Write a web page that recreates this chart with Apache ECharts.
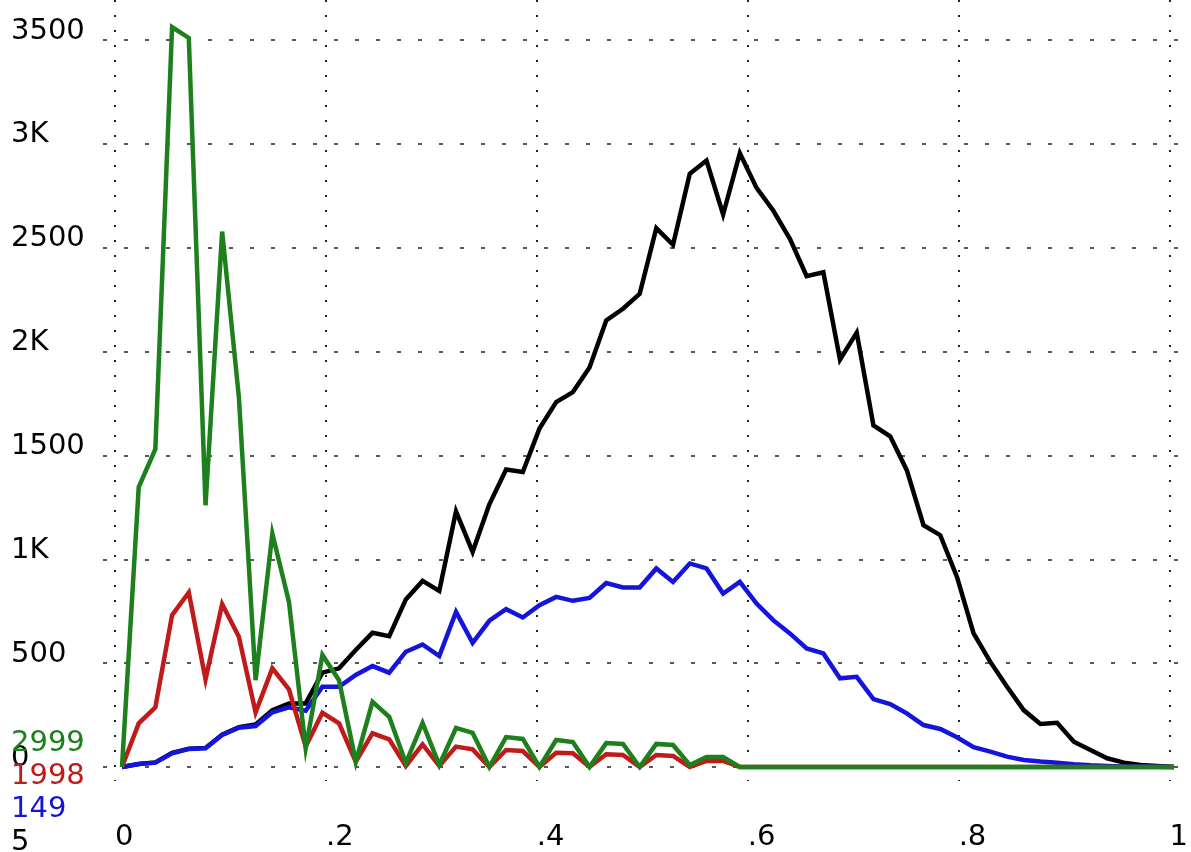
<!DOCTYPE html>
<html>
<head>
<meta charset="utf-8">
<script src="https://cdn.jsdelivr.net/npm/echarts@6/dist/echarts.min.js"></script>
<style>
html,body{margin:0;padding:0;background:#fff;}
#chart{width:1191px;height:852px;}
</style>
</head>
<body>
<div id="chart"></div>
<script>
// x positions of the histogram bins
var xValues = [0, .0159, .0317, .0476, .0635, .0794, .0952, .1111, .1270, .1429,
  .1587, .1746, .1905, .2063, .2222, .2381, .2540, .2698, .2857, .3016,
  .3175, .3333, .3492, .3651, .3810, .3968, .4127, .4286, .4444, .4603,
  .4762, .4921, .5079, .5238, .5397, .5556, .5714, .5873, .6032, .6190,
  .6349, .6508, .6667, .6825, .6984, .7143, .7302, .7460, .7619, .7778,
  .7937, .8095, .8254, .8413, .8571, .8730, .8889, .9048, .9206, .9365,
  .9524, .9683, .9841, 1];

var seriesNames = ['5', '149', '1998', '2999'];

var black5 = [0, 14, 22, 68, 88, 92, 156, 192, 205, 274,
  306, 306, 454, 475, 563, 646, 630, 807, 896, 848,
  1231, 1036, 1265, 1432, 1420, 1629, 1757, 1805, 1923, 2150,
  2206, 2278, 2594, 2514, 2856, 2920, 2660, 2955, 2788, 2679,
  2543, 2363, 2382, 1961, 2091, 1645, 1592, 1429, 1164, 1116,
  915, 643, 506, 386, 274, 207, 213, 122, 82, 42,
  21, 10, 5, 0];

var blue149 = [0, 14, 21, 66, 87, 90, 154, 189, 197, 263,
  287, 271, 386, 386, 443, 486, 454, 555, 590, 534,
  747, 598, 704, 760, 720, 779, 819, 800, 814, 886,
  864, 864, 956, 891, 980, 956, 835, 891, 787, 707,
  643, 571, 547, 427, 434, 327, 303, 258, 202, 183,
  143, 95, 74, 50, 34, 26, 21, 13, 8, 5,
  3, 2, 1, 0];

var red1998 = [0, 210, 287, 731, 840, 422, 784, 627, 263, 475,
  374, 98, 261, 210, 25, 162, 133, 5, 109, 5,
  98, 85, 0, 82, 77, 0, 69, 66, 0, 61,
  58, 0, 58, 53, 0, 29, 29, 0, 0, 0,
  0, 0, 0, 0, 0, 0, 0, 0, 0, 0,
  0, 0, 0, 0, 0, 0, 0, 0, 0, 0,
  0, 0, 0, 0];

var green2999 = [0, 1348, 1530, 3562, 3510, 1260, 2578, 1781, 418, 1124,
  795, 90, 539, 418, 25, 314, 242, 19, 212, 10,
  188, 164, 0, 144, 135, 0, 130, 120, 0, 115,
  111, 0, 111, 106, 10, 48, 48, 0, 0, 0,
  0, 0, 0, 0, 0, 0, 0, 0, 0, 0,
  0, 0, 0, 0, 0, 0, 0, 0, 0, 0,
  0, 0, 0, 0];

var yTickValues = [0, 500, 1000, 1500, 2000, 2500, 3000, 3500];
var yTickLabels = ['0', '500', '1K', '1500', '2K', '2500', '3K', '3500'];
var xTickValues = [0, 0.2, 0.4, 0.6, 0.8, 1];
var xTickLabels = ['0', '.2', '.4', '.6', '.8', '1'];

// key labels listed top to bottom at the lower left
var keyOrder = [3, 2, 1, 0];

var colors = ['#000000', '#1414dc', '#c01a1a', '#1d801d'];
var FONT = 'DejaVu Sans';
var FS = 29;

function pairs(vals) {
  return xValues.map(function (x, i) { return [x, vals[i]]; });
}
function findLabel(values, labels, v) {
  for (var i = 0; i < values.length; i++) {
    if (Math.abs(values[i] - v) < 1e-6) return labels[i];
  }
  return '';
}

var chart = echarts.init(document.getElementById('chart'), null, {renderer: 'canvas'});
var allSeries = [black5, blue149, red1998, green2999];

var keyTop = 741, keyStep = 33;
var keyGraphics = keyOrder.map(function (si, row) {
  return {
    type: 'text',
    left: 11,
    top: keyTop + row * keyStep - 12,
    z: 10,
    style: {
      text: seriesNames[si],
      fill: colors[si],
      font: FS + 'px "' + FONT + '"',
      textVerticalAlign: 'top'
    }
  };
});

chart.setOption({
  backgroundColor: '#ffffff',
  animation: false,
  textStyle: {fontFamily: FONT},
  graphic: keyGraphics,
  grid: [
    {left: 103, right: 0, top: 40, bottom: 85, containLabel: false},
    {left: 115, right: 11, top: 0, bottom: 67, containLabel: false},
    {left: 122, right: 17, top: 40, bottom: 85, containLabel: false}
  ],
  xAxis: [
    {gridIndex: 0, type: 'value', min: 0, max: 1, show: false},
    {
      gridIndex: 1, type: 'value', min: 0, max: 1, interval: 0.2,
      axisLine: {show: false}, axisTick: {show: false},
      splitLine: {show: true, lineStyle: {color: '#222', width: 2, type: [2, 13]}},
      axisLabel: {
        show: true, align: 'left', verticalAlign: 'top', margin: 42,
        fontFamily: FONT, fontSize: FS, lineHeight: 29, color: '#000',
        formatter: function (v) { return findLabel(xTickValues, xTickLabels, v); }
      }
    },
    {gridIndex: 2, type: 'value', min: 0, max: 1, show: false}
  ],
  yAxis: [
    {
      gridIndex: 0, type: 'value', min: 0, max: 3500, interval: 500,
      axisLine: {show: false}, axisTick: {show: false},
      splitLine: {show: true, lineStyle: {color: '#222', width: 1.6, type: [4, 17]}},
      axisLabel: {
        show: true, align: 'left', verticalAlign: 'bottom', margin: 92,
        fontFamily: FONT, fontSize: FS, lineHeight: 18, color: '#000',
        formatter: function (v) { return findLabel(yTickValues, yTickLabels, v); }
      }
    },
    {gridIndex: 1, type: 'value', show: false},
    {gridIndex: 2, type: 'value', min: 0, max: 3500, show: false}
  ],
  series: seriesNames.map(function (name, i) {
    return {
      name: name,
      type: 'line',
      xAxisIndex: 2,
      yAxisIndex: 2,
      data: pairs(allSeries[i]),
      showSymbol: false,
      symbol: 'none',
      clip: false,
      lineStyle: {color: colors[i], width: 4.5, join: 'miter'},
      itemStyle: {color: colors[i]},
      z: 3 + i
    };
  })
});
</script>
</body>
</html>
